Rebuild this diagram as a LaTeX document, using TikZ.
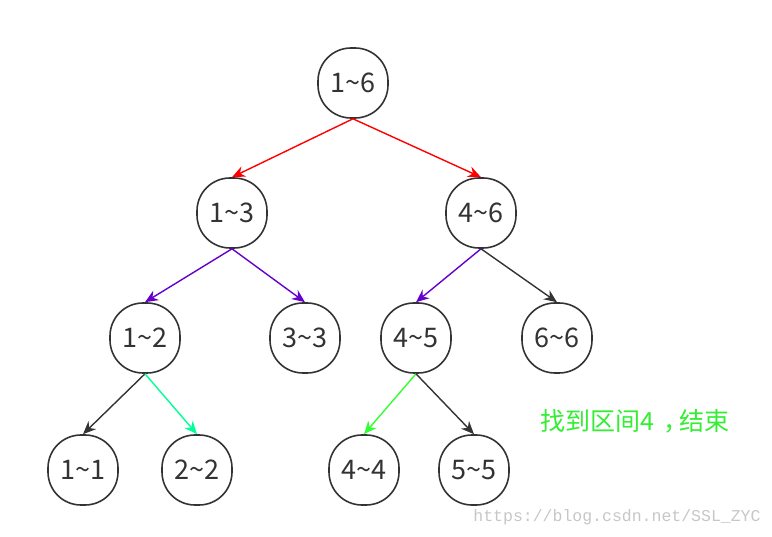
\documentclass[tikz,border=0pt]{standalone}
\usepackage{fontspec}
\setmainfont{Noto Sans CJK SC}
\newfontfamily\wmfont{Liberation Mono}
\usetikzlibrary{arrows.meta}
\definecolor{nodeline}{HTML}{333333}
\definecolor{redE}{HTML}{FF0000}
\definecolor{purpE}{HTML}{6600CC}
\definecolor{grayE}{HTML}{333333}
\definecolor{springE}{HTML}{00FF99}
\definecolor{greenE}{HTML}{33FF33}
\definecolor{greenT}{HTML}{33EE33}
\tikzset{
  tnode/.style={draw=nodeline, line width=1.6pt, rectangle, rounded corners=33pt,
    minimum width=70pt, minimum height=70pt, inner sep=0pt,
    font=\fontsize{27}{31}\selectfont, text=nodeline},
  edge/.style={line width=1.4pt, -{Stealth[length=13pt,width=11pt]}},
}
\begin{document}
\begin{tikzpicture}[x=1pt,y=-1pt]
\useasboundingbox (0,0) rectangle (772,537);
\fill[white] (0,0) rectangle (772,537);
\node[tnode] (n16) at (353,83) {1\textasciitilde 6};
\node[tnode] (n13) at (232,213) {1\textasciitilde 3};
\node[tnode] (n46) at (481,213) {4\textasciitilde 6};
\node[tnode] (n12) at (145,338) {1\textasciitilde 2};
\node[tnode] (n33) at (305,338) {3\textasciitilde 3};
\node[tnode] (n45) at (416,338) {4\textasciitilde 5};
\node[tnode] (n66) at (557,338) {6\textasciitilde 6};
\node[tnode] (n11) at (83,470) {1\textasciitilde 1};
\node[tnode] (n22) at (197,470) {2\textasciitilde 2};
\node[tnode] (n44) at (364,470) {4\textasciitilde 4};
\node[tnode] (n55) at (474,470) {5\textasciitilde 5};
\draw[edge, redE] (n16.south) -- (n13.north);
\draw[edge, redE] (n16.south) -- (n46.north);
\draw[edge, purpE] (n13.south) -- (n12.north);
\draw[edge, purpE] (n13.south) -- (n33.north);
\draw[edge, purpE] (n46.south) -- (n45.north);
\draw[edge, grayE] (n46.south) -- (n66.north);
\draw[edge, grayE] (n12.south) -- (n11.north);
\draw[edge, springE] (n12.south) -- (n22.north);
\draw[edge, greenE] (n45.south) -- (n44.north);
\draw[edge, grayE] (n45.south) -- (n55.north);
\node[text=greenT, font=\fontsize{25}{29}\selectfont] (msg) at (635,421) {找到区间4\kern9pt，\kern-9pt结束};
\node[text=black!22, font=\wmfont\fontsize{16.5}{18}\selectfont] (wm) at (617,517) {https://blog.csdn.net/SSL\_ZYC};
\end{tikzpicture}
\end{document}
